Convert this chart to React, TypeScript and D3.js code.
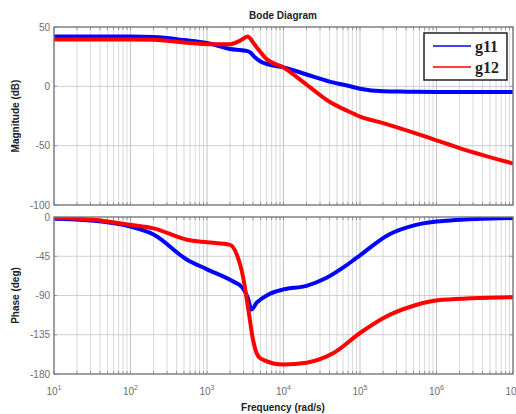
import React from "react";
import * as d3 from "d3";

// Frequency response samples (rad/s)
const magFreqG11 = [10, 100, 200, 500, 1000, 2000, 3200, 3700, 4300, 5000, 6300, 10000, 20000, 40000, 70000, 100000, 200000, 400000, 1e6, 1e7];
const magG11 = [42, 42, 41.5, 39, 36.5, 31.5, 30, 28.5, 24, 21, 18.5, 16, 10, 4, 0.5, -2, -4.2, -4.5, -4.7, -4.7];

const magFreqG12 = [10, 100, 200, 500, 1000, 2000, 2700, 3400, 4000, 4700, 6000, 10000, 20000, 40000, 70000, 100000, 200000, 500000, 1e6, 2e6, 1e7];
const magG12 = [39.5, 39.5, 39.3, 37, 35.5, 35.5, 38.5, 42, 37, 31, 23, 15.8, 1.5, -13, -21, -25.5, -31, -39, -45.5, -52, -65];

const phFreqG11 = [10, 30, 100, 200, 550, 1000, 2200, 2900, 3400, 3800, 4500, 6300, 10000, 20000, 36000, 60000, 90000, 240000, 540000, 1.5e6, 1e7];
const phG11 = [-2, -4, -11, -20, -49, -60, -74, -81, -92, -106, -98, -89, -83, -79, -70, -58, -47, -20, -9, -4, -1.2];

const phFreqG12 = [10, 30, 100, 200, 550, 1000, 2000, 2450, 2950, 3470, 4000, 4700, 5500, 10000, 20000, 45000, 100000, 200000, 490000, 1.2e6, 1e7];
const phG12 = [-1, -3, -9, -13, -26, -29, -32, -43, -68, -106, -141, -160, -164, -169, -167, -156, -133, -116, -102, -95, -92];

const magTicks = [50, 0, -50, -100];
const phaseTicks = [0, -45, -90, -135, -180];
const decadeExps = [1, 2, 3, 4, 5, 6, 7];
const seriesNames = ["g11", "g12"];
const seriesColors = ["#0000ff", "#ff0000"];

const W = 516;
const H = 414;
const left = 54;
const right = 513;
const magTop = 27;
const magBottom = 205;
const phTop = 217;
const phBottom = 374;

const x = d3.scaleLog().domain([10, 1e7]).range([left, right]);
const yMag = d3.scaleLinear().domain([-100, 50]).range([magBottom, magTop]);
const yPh = d3.scaleLinear().domain([-180, 0]).range([phBottom, phTop]);

const minorFreqs: number[] = [];
for (let e = 1; e < 7; e++) {
  for (let m = 1; m <= 9; m++) minorFreqs.push(m * Math.pow(10, e));
}
minorFreqs.push(1e7);

function makeLine(y: d3.ScaleLinear<number, number>) {
  return d3
    .line<[number, number]>()
    .x((d) => x(d[0]))
    .y((d) => y(d[1]))
    .curve(d3.curveMonotoneX);
}

const zip = (a: number[], b: number[]) => a.map((v, i) => [v, b[i]] as [number, number]);

const font = "'Liberation Sans', Arial, Helvetica, sans-serif";

function Panel({
  y,
  top,
  bottom,
  ticks,
  series,
}: {
  y: d3.ScaleLinear<number, number>;
  top: number;
  bottom: number;
  ticks: number[];
  series: { data: [number, number][]; color: string }[];
}) {
  const line = makeLine(y);
  const clipId = `clip-${top}`;
  return (
    <g>
      <defs>
        <clipPath id={clipId}>
          <rect x={left} y={top} width={right - left} height={bottom - top} />
        </clipPath>
      </defs>
      <rect x={left} y={top} width={right - left} height={bottom - top} fill="#fff" />
      {minorFreqs.map((f, i) => (
        <line
          key={`vg${i}`}
          x1={x(f)}
          x2={x(f)}
          y1={top}
          y2={bottom}
          stroke={Math.abs(Math.log10(f) - Math.round(Math.log10(f))) < 1e-9 ? "#b4b4b4" : "#cfcfcf"}
          strokeWidth={0.8}
        />
      ))}
      {ticks.map((t) => (
        <line key={`hg${t}`} x1={left} x2={right} y1={y(t)} y2={y(t)} stroke="#c4c4c4" strokeWidth={0.8} />
      ))}
      {minorFreqs.map((f, i) => (
        <g key={`tk${i}`}>
          <line x1={x(f)} x2={x(f)} y1={top} y2={top + 3} stroke="#808080" strokeWidth={0.8} />
          <line x1={x(f)} x2={x(f)} y1={bottom} y2={bottom - 3} stroke="#808080" strokeWidth={0.8} />
        </g>
      ))}
      {ticks.map((t) => (
        <g key={`yt${t}`}>
          <line x1={left} x2={left + 3} y1={y(t)} y2={y(t)} stroke="#808080" strokeWidth={0.8} />
          <line x1={right} x2={right - 3} y1={y(t)} y2={y(t)} stroke="#808080" strokeWidth={0.8} />
          <text
            x={left - 4}
            y={y(t)}
            dy="0.35em"
            textAnchor="end"
            fontFamily={font}
            fontSize={10}
            fill="#6e6e6e"
          >
            {t}
          </text>
        </g>
      ))}
      <g clipPath={`url(#${clipId})`}>
        {series.map((s, i) => (
          <path key={i} d={line(s.data) ?? ""} fill="none" stroke={s.color} strokeWidth={4} strokeLinejoin="round" />
        ))}
      </g>
      <rect x={left} y={top} width={right - left} height={bottom - top} fill="none" stroke="#7a7a7a" strokeWidth={1.3} />
    </g>
  );
}

export default function App() {
  return (
    <svg
      width={W}
      height={H}
      viewBox={`0 0 ${W} ${H}`}
      style={{ position: "absolute", left: 0, top: 0, background: "#fff" }}
    >
      <rect width={W} height={H} fill="#fff" />
      <text x={283} y={19} textAnchor="middle" fontFamily={font} fontSize={10} fontWeight="bold" fill="#222">
        Bode Diagram
      </text>
      <Panel
        y={yMag}
        top={magTop}
        bottom={magBottom}
        ticks={magTicks}
        series={[
          { data: zip(magFreqG11, magG11), color: seriesColors[0] },
          { data: zip(magFreqG12, magG12), color: seriesColors[1] },
        ]}
      />
      <Panel
        y={yPh}
        top={phTop}
        bottom={phBottom}
        ticks={phaseTicks}
        series={[
          { data: zip(phFreqG11, phG11), color: seriesColors[0] },
          { data: zip(phFreqG12, phG12), color: seriesColors[1] },
        ]}
      />
      {decadeExps.map((e) => (
        <text
          key={`xl${e}`}
          x={x(Math.pow(10, e))}
          y={395}
          textAnchor="middle"
          fontFamily={font}
          fontSize={10}
          fill="#6e6e6e"
        >
          10
          <tspan dy={-5} fontSize={7}>
            {e}
          </tspan>
        </text>
      ))}
      <text x={283} y={411} textAnchor="middle" fontFamily={font} fontSize={10} fontWeight="bold" fill="#222">
        Frequency  (rad/s)
      </text>
      <text
        transform={`translate(19, ${(magTop + magBottom) / 2}) rotate(-90)`}
        textAnchor="middle"
        fontFamily={font}
        fontSize={10}
        fontWeight="bold"
        fill="#222"
      >
        Magnitude (dB)
      </text>
      <text
        transform={`translate(19, ${(phTop + phBottom) / 2}) rotate(-90)`}
        textAnchor="middle"
        fontFamily={font}
        fontSize={10}
        fontWeight="bold"
        fill="#222"
      >
        Phase (deg)
      </text>
      {/* legend */}
      <g>
        <rect x={424} y={33} width={83} height={47} fill="#fff" stroke="#222" strokeWidth={1.5} />
        {seriesNames.map((name, i) => (
          <g key={name}>
            <line x1={433} x2={471} y1={46 + i * 21} y2={46 + i * 21} stroke={seriesColors[i]} strokeWidth={1.5} />
            <text
              x={475}
              y={52 + i * 21}
              fontFamily="'Liberation Serif', 'Times New Roman', serif"
              fontSize={16}
              fontWeight="bold"
              fill="#222"
            >
              {name}
            </text>
          </g>
        ))}
      </g>
    </svg>
  );
}
